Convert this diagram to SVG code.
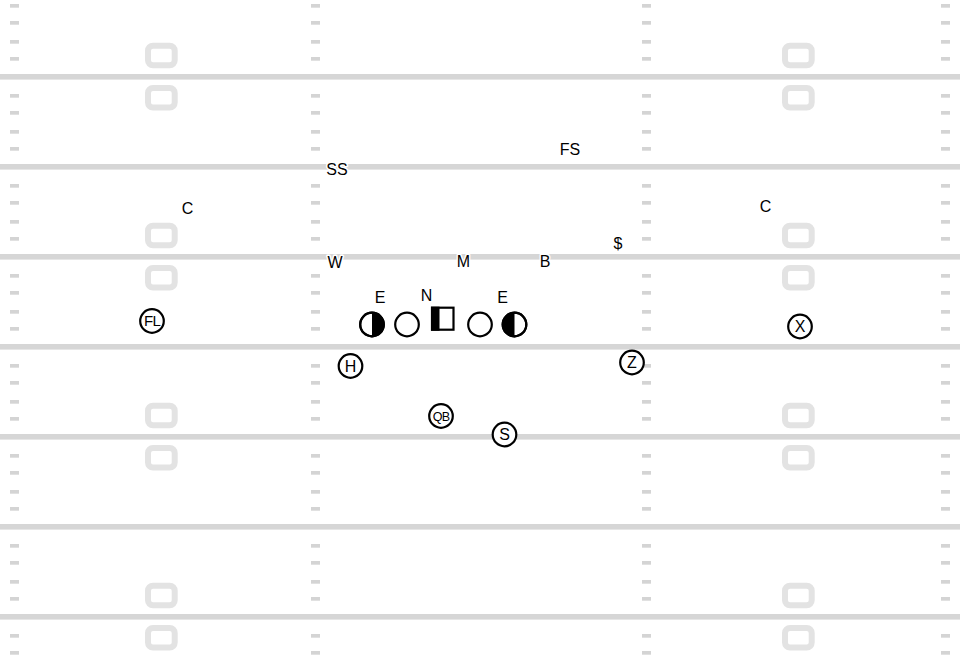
<svg xmlns="http://www.w3.org/2000/svg" width="960" height="660" viewBox="0 0 960 660">
<defs>
<style>
.yl{fill:#d6d6d6}
.hm{fill:#d4d4d4}
.num{fill:none;stroke:#e3e3e3;stroke-width:6}
.lbl{font-family:"Liberation Sans",Arial,sans-serif;font-size:16px;fill:#000;text-anchor:middle;stroke:#fff;stroke-width:3;paint-order:stroke;stroke-linejoin:round}
.pc{fill:#fff;stroke:#000;stroke-width:2.2}
.pt{font-family:"Liberation Sans",Arial,sans-serif;font-size:16px;fill:#000;text-anchor:middle}
.blk{fill:#000}
</style>
<g id="hashcol">
<rect x="0" y="0" width="9" height="3.7"/>
<rect x="0" y="17" width="9" height="3.7"/>
<rect x="0" y="36" width="9" height="3.7"/>
<rect x="0" y="53" width="9" height="3.7"/>
</g>
<g id="hashrow">
<use href="#hashcol" x="10"/>
<use href="#hashcol" x="311"/>
<use href="#hashcol" x="642"/>
<use href="#hashcol" x="941"/>
</g>
<g id="numpair">
<rect x="148" y="45.7" width="26.7" height="19.6" rx="5"/>
<rect x="148" y="88" width="26.7" height="19.6" rx="5"/>
<rect x="785" y="45.7" width="26.7" height="19.6" rx="5"/>
<rect x="785" y="88" width="26.7" height="19.6" rx="5"/>
</g>
</defs>
<rect width="960" height="660" fill="#fff"/>
<g id="field">
<g class="hm">
<use href="#hashrow" y="4"/>
<use href="#hashrow" y="94"/>
<use href="#hashrow" y="184"/>
<use href="#hashrow" y="274"/>
<use href="#hashrow" y="364"/>
<use href="#hashrow" y="454"/>
<use href="#hashrow" y="544"/>
<use href="#hashrow" y="634"/>
</g>
<g class="num">
<use href="#numpair" y="0"/>
<use href="#numpair" y="180"/>
<use href="#numpair" y="360"/>
<use href="#numpair" y="540"/>
</g>
<g class="yl">
<rect x="0" y="74" width="960" height="5.6"/>
<rect x="0" y="164" width="960" height="5.6"/>
<rect x="0" y="254" width="960" height="5.6"/>
<rect x="0" y="344" width="960" height="5.6"/>
<rect x="0" y="434" width="960" height="5.6"/>
<rect x="0" y="524" width="960" height="5.6"/>
<rect x="0" y="614" width="960" height="5.6"/>
</g>
</g>
<g id="connectors"></g>
<g id="defense">
<g id="d-ss"><text class="lbl" x="337" y="175">SS</text></g>
<g id="d-fs"><text class="lbl" x="570" y="155">FS</text></g>
<g id="d-c-left"><text class="lbl" x="187.5" y="214">C</text></g>
<g id="d-c-right"><text class="lbl" x="765.5" y="212">C</text></g>
<g id="d-dollar"><text class="lbl" x="618" y="249">$</text></g>
<g id="d-w"><text class="lbl" x="335" y="268">W</text></g>
<g id="d-m"><text class="lbl" x="463.5" y="267">M</text></g>
<g id="d-b"><text class="lbl" x="545" y="267">B</text></g>
<g id="d-e-left"><text class="lbl" x="380" y="303">E</text></g>
<g id="d-n"><text class="lbl" x="426.5" y="301">N</text></g>
<g id="d-e-right"><text class="lbl" x="502.5" y="303">E</text></g>
</g>
<g id="offense">
<g id="o-lt">
<circle class="pc" cx="372" cy="324.5" r="11.8"/>
<path class="blk" d="M372 312.7 A11.8 11.8 0 0 1 372 336.3 Z"/>
<circle cx="372" cy="324.5" r="11.8" fill="none" stroke="#000" stroke-width="2.2"/>
</g>
<g id="o-lg"><circle class="pc" cx="407" cy="324.5" r="11.8"/></g>
<g id="o-c">
<rect class="pc" x="432" y="307.7" width="21.5" height="22"/>
<rect class="blk" x="431" y="306.7" width="8.5" height="24"/>
</g>
<g id="o-rg"><circle class="pc" cx="480" cy="324.5" r="11.8"/></g>
<g id="o-rt">
<circle class="pc" cx="514.5" cy="324.5" r="11.8"/>
<path class="blk" d="M514.5 312.7 A11.8 11.8 0 0 0 514.5 336.3 Z"/>
<circle cx="514.5" cy="324.5" r="11.8" fill="none" stroke="#000" stroke-width="2.2"/>
</g>
<g id="o-fl"><circle class="pc" cx="152" cy="321" r="11.8"/><text class="pt" x="152" y="326.2" style="font-size:15px;letter-spacing:-0.8px">FL</text></g>
<g id="o-h"><circle class="pc" cx="350.5" cy="366" r="11.8"/><text class="pt" x="350.5" y="371.7">H</text></g>
<g id="o-qb"><circle class="pc" cx="441" cy="416" r="11.8"/><text class="pt" x="441" y="420.6" style="font-size:12.5px;letter-spacing:-0.8px">QB</text></g>
<g id="o-s"><circle class="pc" cx="504.5" cy="434.5" r="11.8"/><text class="pt" x="504.5" y="440.2">S</text></g>
<g id="o-z"><circle class="pc" cx="632" cy="362.5" r="11.8"/><text class="pt" x="632" y="368.2">Z</text></g>
<g id="o-x"><circle class="pc" cx="800" cy="326.5" r="11.8"/><text class="pt" x="800" y="332.2">X</text></g>
</g>
</svg>
